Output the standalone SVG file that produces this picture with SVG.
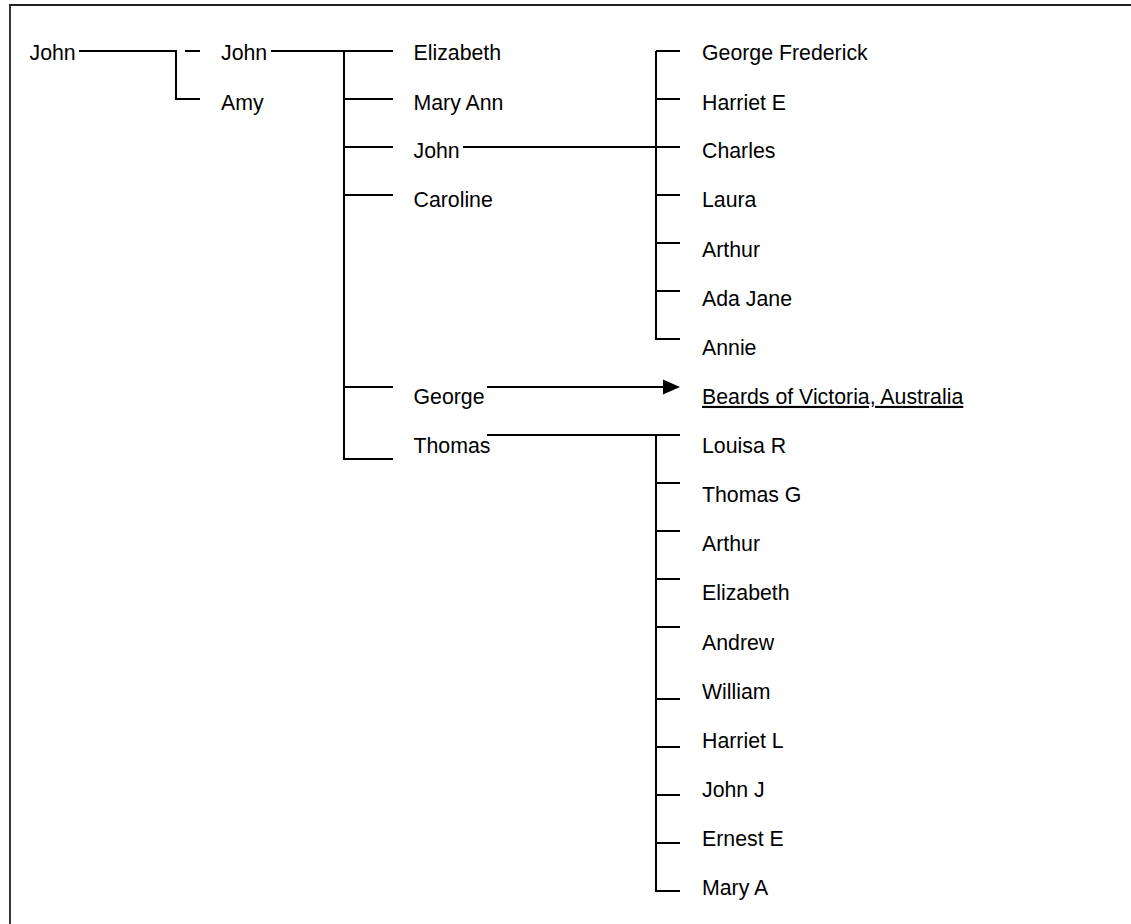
<svg xmlns="http://www.w3.org/2000/svg" width="1131" height="924" viewBox="0 0 1131 924">
<style>
text{font-family:"Liberation Sans",Arial,sans-serif;font-size:21.3px;fill:#000}
.ln{stroke:#000;stroke-width:2;fill:none}
.frame{stroke:#222;stroke-width:1.8;fill:none}
</style>
<rect width="1131" height="924" fill="#fff"/>
<path class="frame" d="M10,930 V5 H1140"/>
<g id="connectors">
<path class="ln" d="M79,51 H176 V99 H200"/>
<path class="ln" d="M185,51 H200"/>
<path class="ln" d="M271,51 H393"/>
<path class="ln" d="M344,51 V459 H393 M344,99 H393 M344,147 H393 M344,195 H393 M344,387 H393"/>
<path class="ln" d="M463,147 H680"/>
<path class="ln" d="M656,51 V339 H680 M656,51 H680 M656,99 H680 M656,195 H680 M656,243 H680 M656,291 H680"/>
<path class="ln" d="M487,387 H665"/>
<polygon points="663,379.5 680,387 663,394.5" fill="#000"/>
<path class="ln" d="M487,435 H680 M656,435 V891 H680 M656,483 H680 M656,531 H680 M656,579 H680 M656,627 H680 M656,699 H680 M656,747 H680 M656,795 H680 M656,843 H680"/>
</g>
<g id="n-john-root"><text x="29.5" y="60">John</text></g>
<g id="n-john-1"><text x="221" y="60">John</text></g>
<g id="n-amy"><text x="221" y="109.5">Amy</text></g>
<g id="n-elizabeth-1"><text x="413.5" y="60">Elizabeth</text></g>
<g id="n-maryann"><text x="413.5" y="109.5">Mary Ann</text></g>
<g id="n-john-2"><text x="413.5" y="158.3">John</text></g>
<g id="n-caroline"><text x="413.5" y="207.4">Caroline</text></g>
<g id="n-george"><text x="413.5" y="403.9">George</text></g>
<g id="n-thomas"><text x="413.5" y="453">Thomas</text></g>
<g id="n-georgefrederick"><text x="702" y="60">George Frederick</text></g>
<g id="n-harriete"><text x="702" y="109.5">Harriet E</text></g>
<g id="n-charles"><text x="702" y="158.3">Charles</text></g>
<g id="n-laura"><text x="702" y="207.4">Laura</text></g>
<g id="n-arthur-1"><text x="702" y="256.5">Arthur</text></g>
<g id="n-adajane"><text x="702" y="305.7">Ada Jane</text></g>
<g id="n-annie"><text x="702" y="354.8">Annie</text></g>
<g id="n-beards"><text x="702" y="403.9" text-decoration="underline">Beards of Victoria, Australia</text></g>
<g id="n-louisar"><text x="702" y="453">Louisa R</text></g>
<g id="n-thomasg"><text x="702" y="502.2">Thomas G</text></g>
<g id="n-arthur-2"><text x="702" y="551.3">Arthur</text></g>
<g id="n-elizabeth-2"><text x="702" y="600.4">Elizabeth</text></g>
<g id="n-andrew"><text x="702" y="649.6">Andrew</text></g>
<g id="n-william"><text x="702" y="698.7">William</text></g>
<g id="n-harrietl"><text x="702" y="747.8">Harriet L</text></g>
<g id="n-johnj"><text x="702" y="797">John J</text></g>
<g id="n-ernerte"><text x="702" y="846.1">Ernest E</text></g>
<g id="n-marya"><text x="702" y="895.2">Mary A</text></g>
</svg>
